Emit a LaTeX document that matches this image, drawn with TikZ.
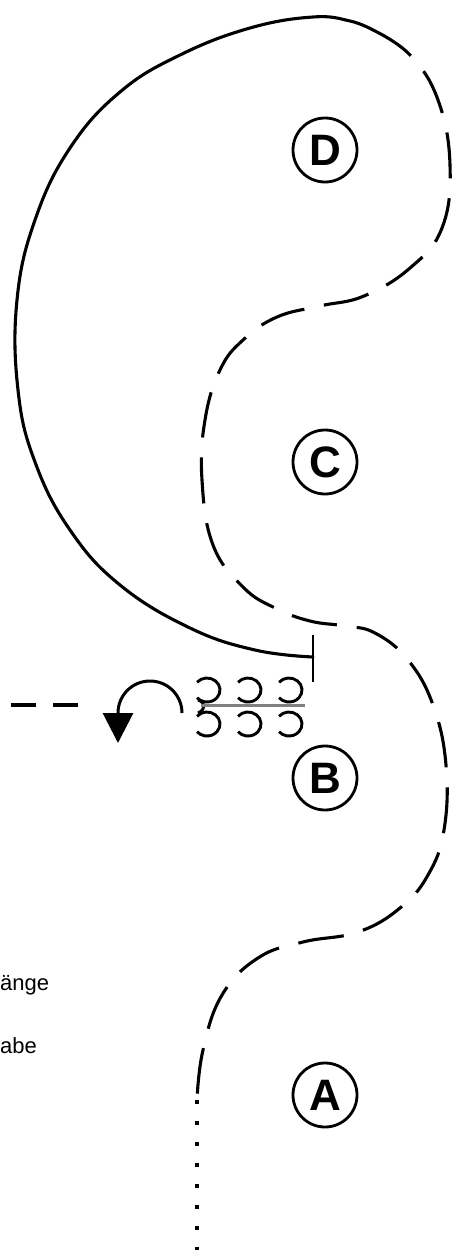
\documentclass[tikz,border=0pt]{standalone}
\usepackage{fontspec}
\setmainfont{Liberation Sans}
\usetikzlibrary{arrows.meta}
\begin{document}
\begin{tikzpicture}[x=1pt,y=-1pt,
  lbl/.style={circle, draw, line width=2.8pt, minimum size=64pt, inner sep=0pt, font=\fontsize{44}{44}\selectfont\bfseries},
  solidline/.style={line width=3.1pt, line cap=round},
  dashline/.style={line width=3.1pt, dash pattern=on 46pt off 20pt},
  dotline/.style={line width=3.6pt, dash pattern=on 4pt off 17pt},
  coil/.style={line width=2.9pt},
  side/.style={font=\fontsize{22}{22}\selectfont, inner sep=0pt}]
\useasboundingbox (0,0) rectangle (456,1250);
% circled labels
\node[lbl] (D) at (325,150) {D};
\node[lbl] (C) at (325,462) {C};
\node[lbl] (B) at (325,778) {B};
\node[lbl] (A) at (325,1095) {A};
% solid outer curve
\draw[solidline] plot[smooth, tension=0.7] coordinates {(373,30) (350,21) (313,17) (250,28) (180,55) (120,92) (70,148) (35,220) (17,300) (18,390) (35,462) (70,530) (120,585) (190,628) (255,650) (313,657)};
\coordinate (t1) at (313,635);
\coordinate (t2) at (313,682);
\draw[line width=2.8pt] (t1) -- (t2);
% dashed contour
\draw[dashline] plot[smooth, tension=0.7] coordinates {(373,30) (410,55) (438,100) (450,165) (442,228) (410,268) (364,296) (320,306) (277,317) (243,340) (220,370) (205,420) (202,480) (213,545) (243,587) (275,608) (310,621) (345,626) (375,633) (408,660) (433,705) (446,765) (444,830) (428,875) (400,908) (358,932) (303,942) (258,958) (222,995) (203,1050) (197,1100)};
\coordinate (p1) at (197,1100);
\coordinate (p2) at (197,1252);
\draw[dotline] (p1) -- (p2);
% dashed horizontal
\coordinate (h1) at (78,705);
\coordinate (h2) at (-20,705);
\draw[line width=3.2pt, dash pattern=on 25pt off 17pt] (h1) -- (h2);
% curved arrow
\coordinate (a0) at (182,713);
\draw[line width=3pt, -{Triangle[width=30pt,length=30pt]}] (a0) arc[start angle=0, end angle=-180, radius=32] -- ++(0,30);
% coils
\foreach \cx in {207,248,289}{
  \draw[coil] (\cx,690) ++({13*cos(-140)},{12*sin(-140)}) arc[start angle=-140, end angle=140, x radius=13, y radius=12];
  \draw[coil] (\cx,724) ++({13*cos(-140)},{12*sin(-140)}) arc[start angle=-140, end angle=140, x radius=13, y radius=12];
}
\draw[coil] (198,700) .. controls (206,703) and (206,709) .. (198,713);
\draw[line width=3pt, gray] (201,705) -- (305,705);
% side texts
\node[side, anchor=base west] (t-a) at (0,990) {änge};
\node[side, anchor=base west] (t-b) at (0,1053) {abe};
\end{tikzpicture}
\end{document}
